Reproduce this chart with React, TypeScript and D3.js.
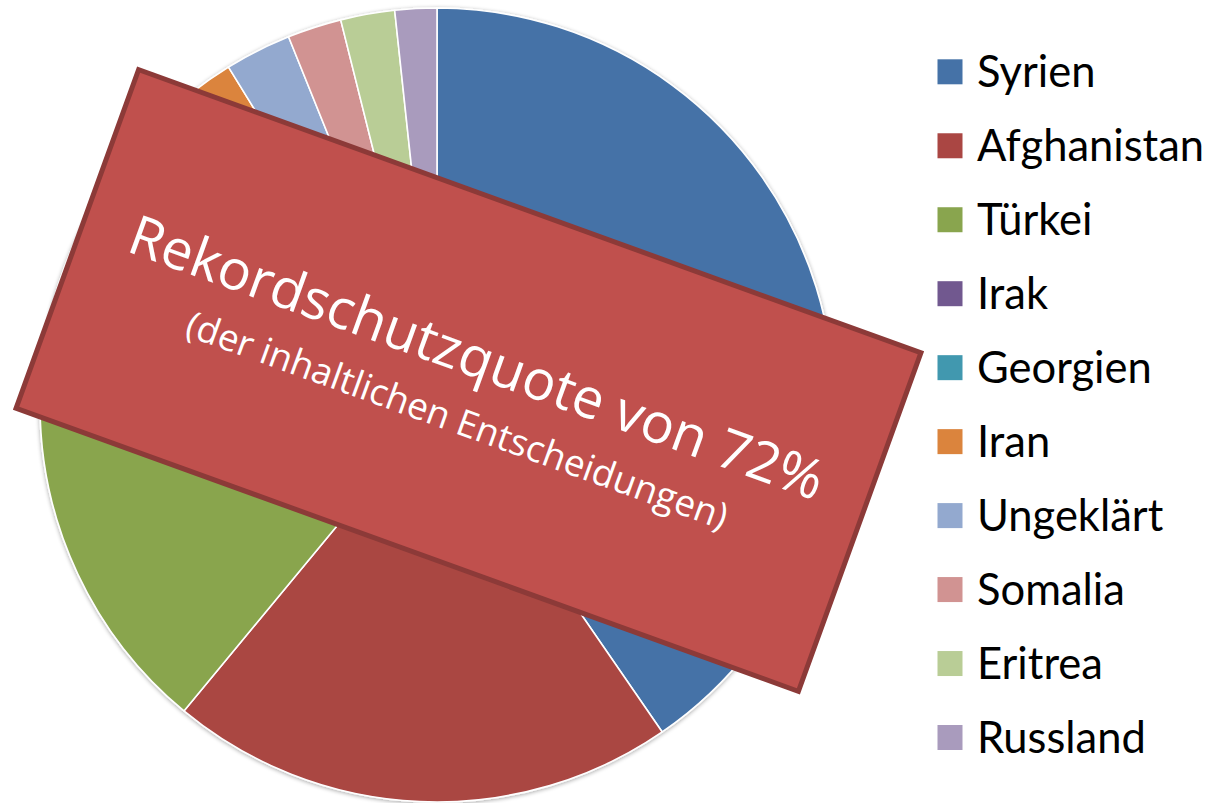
import React from 'react';
import * as d3 from 'd3';

const categories = ['Syrien', 'Afghanistan', 'Türkei', 'Irak', 'Georgien', 'Iran', 'Ungeklärt', 'Somalia', 'Eritrea', 'Russland'];
const values = [40.4, 20.6, 14.0, 8.2, 4.4, 3.6, 2.7, 2.2, 2.2, 1.7];
const colors = ['#4572A7', '#AA4643', '#89A54E', '#71588F', '#4198AF', '#DB843D', '#93A9CF', '#D19392', '#B9CD96', '#A99BBD'];
const bannerTitle = 'Rekordschutzquote von 72%';
const bannerSub = '(der inhaltlichen Entscheidungen)';

const W = 1213;
const H = 803;
const cx = 437;
const cy = 405;
const R = 397;

export default function App() {
  const pie = d3.pie<number>().sort(null).value((d) => d);
  const arcs = pie(values);
  const arc = d3.arc<d3.PieArcDatum<number>>().innerRadius(0).outerRadius(R);
  const color = d3.scaleOrdinal<string, string>().domain(categories).range(colors);
  const ly = d3.scalePoint<string>().domain(categories).range([71.8, 737.5]);

  return (
    <svg width={W} height={H} style={{ position: 'absolute', left: 0, top: 0, background: '#fff' }}>
      <defs>
        <filter id="pieShadow" x="-10%" y="-10%" width="120%" height="120%">
          <feGaussianBlur in="SourceAlpha" stdDeviation="2" />
          <feOffset dx="0" dy="1" result="b" />
          <feComponentTransfer>
            <feFuncA type="linear" slope="0.35" />
          </feComponentTransfer>
          <feMerge>
            <feMergeNode />
            <feMergeNode in="SourceGraphic" />
          </feMerge>
        </filter>
      </defs>
      <g transform={`translate(${cx},${cy})`} filter="url(#pieShadow)">
        {arcs.map((a, i) => (
          <path key={categories[i]} d={arc(a) || ''} fill={color(categories[i])} stroke="#fff" strokeWidth={1.6} strokeLinejoin="round" />
        ))}
      </g>
      <g transform="translate(468.5,380.5) rotate(19.9)">
        <rect x={-416} y={-180} width={832} height={360} fill="#C0504D" stroke="#8C3A38" strokeWidth={5} />
        <text x={0} y={-5} textAnchor="middle" fill="#fff" fontFamily="'Open Sans', sans-serif" fontSize={55.3}>
          {bannerTitle}
        </text>
        <text x={3} y={54} textAnchor="middle" fill="#fff" fontFamily="'Open Sans', sans-serif" fontSize={36.8}>
          {bannerSub}
        </text>
      </g>
      <g>
        {categories.map((c) => (
          <g key={c} transform={`translate(0,${ly(c)})`}>
            <rect x={937.5} y={-12.5} width={25} height={25} fill={color(c)} />
            <text x={977} y={15} fill="#000" fontFamily="Lato, 'Noto Sans', sans-serif" fontSize={43.5}>
              {c}
            </text>
          </g>
        ))}
      </g>
    </svg>
  );
}
